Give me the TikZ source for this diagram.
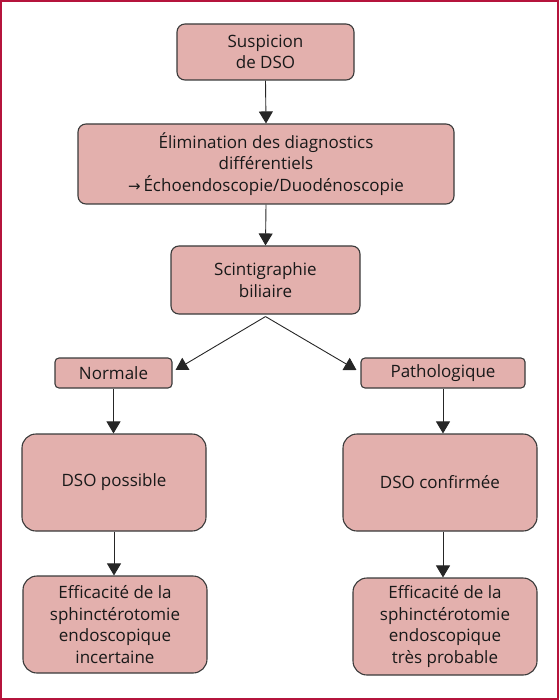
\documentclass[tikz,border=0pt]{standalone}
\usepackage{fontspec}
\setmainfont{Open Sans}
\newfontfamily\arrowfont{DejaVu Sans}
\usetikzlibrary{arrows.meta}
\definecolor{boxfill}{HTML}{E3B0AD}
\definecolor{boxline}{HTML}{3A3A3A}
\definecolor{frame}{HTML}{B5143C}
\begin{document}
\begin{tikzpicture}[x=1pt, y=-1pt,
	box/.style={draw=boxline, fill=boxfill, line width=1.1pt, rounded corners=8pt,
		align=center, inner sep=0pt, text=black!90, font=\fontsize{17}{21.5}\selectfont},
	>={Triangle[width=14pt, length=12pt]},
	arr/.style={->, line width=0.9pt, draw=black!85}]
	
	\useasboundingbox (0, 0) rectangle (559, 700);
	\draw [frame, line width=2pt] (1, 1) rectangle (558, 699);
	
	\node [box, minimum width=177pt, minimum height=56pt] (susp) at (265.5, 52) {Suspicion\\de DSO};
	\node [box, minimum width=376pt, minimum height=80pt] (elim) at (266, 164) {Élimination des diagnostics\\différentiels\\{\arrowfont\fontsize{15}{21.5}\selectfont→}\,Échoendoscopie/Duodénoscopie};
	\node [box, minimum width=189pt, minimum height=68pt] (scint) at (265.5, 280) {Scintigraphie\\biliaire};
	
	\node [box, rounded corners=4pt, minimum width=117pt, minimum height=30pt] (norm) at (113.5, 373) {Normale};
	\node [box, rounded corners=4pt, minimum width=164pt, minimum height=30pt] (path) at (443, 373) {Pathologique};
	
	\node [box, rounded corners=14pt, minimum width=184pt, minimum height=97pt] (poss) at (114, 482.5) {DSO possible};
	\node [box, rounded corners=14pt, minimum width=194pt, minimum height=97pt] (conf) at (440, 482.5) {DSO confirmée};
	
	\node [box, rounded corners=14pt, minimum width=184pt, minimum height=97pt] (effl) at (115, 624.5) {Efficacité de la\\sphinctérotomie\\endoscopique\\incertaine};
	\node [box, rounded corners=14pt, minimum width=184pt, minimum height=97pt] (effr) at (445, 626.5) {Efficacité de la\\sphinctérotomie\\endoscopique\\très probable};
	
	\draw [arr] (susp.south) -- (elim.north);
	\draw [arr] (elim.south) -- (scint.north);
	\draw [arr] ([yshift=-2pt]scint.south) -- ([xshift=3pt, yshift=3pt]norm.east);
	\draw [arr] ([yshift=-2pt]scint.south) -- ([xshift=-4pt, yshift=3pt]path.west);
	
	\draw [arr] (norm.south) -- (norm.south |- poss.north);
	\draw [arr] (path.south) -- (path.south |- conf.north);
	\draw [arr] (poss.south) -- (poss.south |- effl.north);
	\draw [arr] (path.south |- conf.south) -- (path.south |- effr.north);
	
\end{tikzpicture}
\end{document}
